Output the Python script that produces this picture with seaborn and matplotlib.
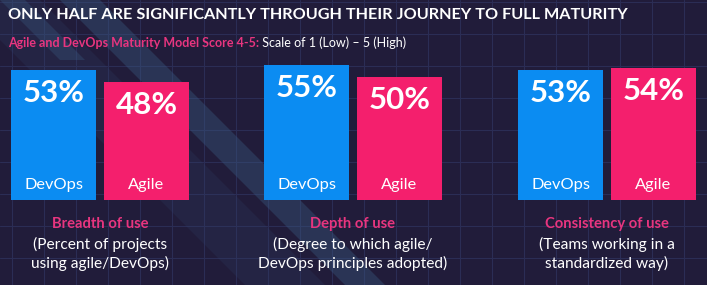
import matplotlib
matplotlib.use("Agg")
import matplotlib.pyplot as plt
import seaborn as sns
import pandas as pd
import numpy as np
from matplotlib.patches import Polygon

# ---- data ----
groups = ["Breadth of use", "Depth of use", "Consistency of use"]
descriptions = ["(Percent of projects\nusing agile/DevOps)",
                "(Degree to which agile/\nDevOps principles adopted)",
                "(Teams working in a\nstandardized way)"]
series = ["DevOps", "Agile"]
devops = [53, 55, 53]
agile = [48, 50, 54]

title = "ONLY HALF ARE SIGNIFICANTLY THROUGH THEIR JOURNEY TO FULL MATURITY"
subtitle_pink = "Agile and DevOps Maturity Model Score 4-5:"
subtitle_white = " Scale of 1 (Low) \u2013 5 (High)"

# ---- style ----
sns.set_theme(style="white")
plt.rcParams['font.family'] = ['Lato', 'DejaVu Sans']

BG = "#211c3a"
GRID = "#2b2d55"
BLUE = "#0b8cf2"
PINK = "#f41f6d"
PINK_T = "#e8357f"
palette = {"DevOps": BLUE, "Agile": PINK}

W, H = 707, 285
fig = plt.figure(figsize=(W / 100, H / 100), dpi=100, facecolor=BG)

# background decoration (pixel coordinates)
bg = fig.add_axes([0, 0, 1, 1], zorder=-1)
bg.set_xlim(0, W)
bg.set_ylim(H, 0)
bg.set_facecolor(BG)
bg.axis("off")
for gx in np.arange(12, W, 32):
    bg.axvline(gx, color=GRID, lw=0.8, zorder=0)
for gy in np.arange(2, H, 32):
    bg.axhline(gy, color=GRID, lw=0.8, zorder=0)
bg.add_patch(Polygon([(60, 0), (100, 0), (100 + 300, 300), (60 + 300, 300)],
                     closed=True, color="#3a5a80", alpha=0.4, lw=0, zorder=1))
bg.add_patch(Polygon([(-40, 0), (40, 0), (340, 300), (260, 300)],
                     closed=True, color="#34466e", alpha=0.2, lw=0, zorder=1))
bg.add_patch(Polygon([(0, 0), (25, 0), (85, 60), (60, 60)],
                     closed=True, color="#3a5a80", alpha=0.35, lw=0, zorder=1))

# titles
fig.text(8 / W, 1 - 15 / H, title, color="white", fontsize=11.7,
         fontweight="bold", va="center", ha="left")
t1 = fig.text(8 / W, 1 - 43 / H, subtitle_pink, color=PINK_T, fontsize=9.0,
              fontweight="bold", va="center", ha="left")
fig.canvas.draw()
bb = t1.get_window_extent()
fig.text(bb.x1 / W, 1 - 43 / H, subtitle_white, color="white", fontsize=9.0,
         va="center", ha="left")

# bar panels
lefts = [11, 264, 518]
pw = 178
w = 0.914
px_per_unit = 2.45
ymax = 60
ax_h = ymax * px_per_unit
baseline = 200

for gi, g in enumerate(groups):
    df = pd.DataFrame({"series": series, "value": [devops[gi], agile[gi]]})
    ax = fig.add_axes([lefts[gi] / W, (H - baseline) / H, pw / W, ax_h / H])
    ax.patch.set_alpha(0)
    sns.barplot(data=df, x="series", y="value", hue="series", palette=palette,
                width=w, legend=False, ax=ax, saturation=1, linewidth=0)
    ax.set_xlim(-w / 2, 1 + w / 2)
    ax.set_ylim(0, ymax)
    ax.axis("off")
    for i, v in enumerate(df["value"]):
        ax.text(i, v - 23 / px_per_unit, f"{v}%", color="white", fontsize=22.5,
                fontweight="bold", ha="center", va="center")
        ax.text(i, 15 / px_per_unit, df["series"][i], color="white",
                fontsize=11.8, ha="center", va="center")
    cx = (lefts[gi] + pw / 2) / W
    fig.text(cx, 1 - 224 / H, g, color=PINK_T, fontsize=10.6,
             fontweight="bold", ha="center", va="center")
    fig.text(cx, 1 - 254 / H, descriptions[gi], color="white", fontsize=11.2,
             ha="center", va="center", linespacing=1.3)

fig.savefig("out.png", dpi=100, facecolor=BG)
